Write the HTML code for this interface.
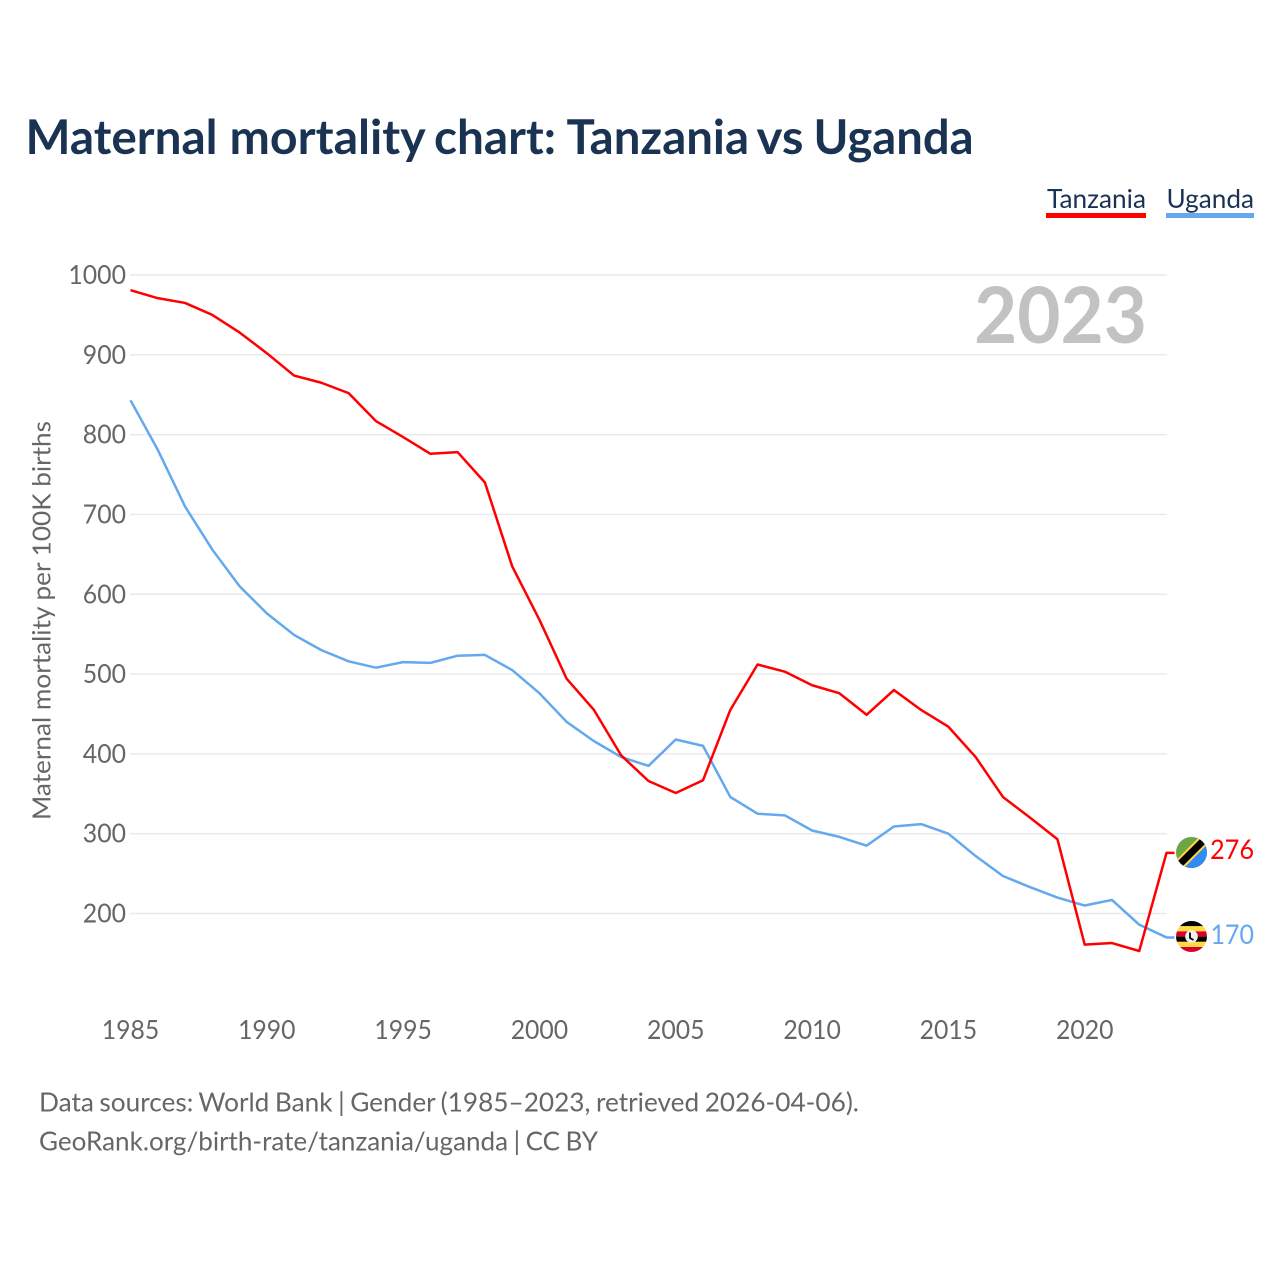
<!DOCTYPE html>
<html lang="en">
<head>
<meta charset="utf-8">
<title>Maternal mortality chart: Tanzania vs Uganda</title>
<style>
html,body{margin:0;padding:0;background:#fff;}
svg{display:block;}
text{font-family:"Lato","Carlito","Liberation Sans",sans-serif;}
.source{word-spacing:-1.2px;}
</style>
</head>
<body>
<svg id="chart" xmlns="http://www.w3.org/2000/svg" width="1280" height="1280" viewBox="0 0 1280 1280">
  <rect x="0" y="0" width="1280" height="1280" fill="#ffffff"/>
  <text y="154" font-size="48" font-weight="700" fill="#1a3353"><tspan x="25.5" textLength="192" lengthAdjust="spacingAndGlyphs">Maternal</tspan> <tspan x="229.5" textLength="195" lengthAdjust="spacingAndGlyphs">mortality</tspan> <tspan x="434" textLength="122" lengthAdjust="spacingAndGlyphs">chart:</tspan> <tspan x="566.5" textLength="182.5" lengthAdjust="spacingAndGlyphs">Tanzania</tspan> <tspan x="756.5" textLength="47" lengthAdjust="spacingAndGlyphs">vs</tspan> <tspan x="813.5" textLength="160" lengthAdjust="spacingAndGlyphs">Uganda</tspan></text>

  <g>
    <text x="1047" y="208" font-size="26.5" fill="#1a3353" textLength="99" lengthAdjust="spacingAndGlyphs">Tanzania</text>
    <rect x="1046" y="213" width="100" height="5" fill="#ff0000"/>
  </g>
  <g>
    <text x="1166.5" y="208" font-size="26.5" fill="#1a3353" textLength="87.5" lengthAdjust="spacingAndGlyphs">Uganda</text>
    <rect x="1166" y="213" width="88" height="5" fill="#64a8ee"/>
  </g>

  <g id="grid"></g>
  <g id="yticks"></g>
  <g id="xticks"></g>

  <text x="1147" y="343" text-anchor="end" font-size="78" font-weight="700" fill="#c2c2c2" textLength="173" lengthAdjust="spacingAndGlyphs">2023</text>
  <text transform="translate(50.5 620.5) rotate(-90)" text-anchor="middle" font-size="25.5" fill="#666666" textLength="399" lengthAdjust="spacingAndGlyphs">Maternal mortality per 100K births</text>

  <g id="series"></g>

  <defs>
    <clipPath id="flag-clip-tz"><circle cx="1191.5" cy="852.5" r="15.5"/></clipPath>
    <clipPath id="flag-clip-ug"><circle cx="1191.5" cy="936.5" r="15.5"/></clipPath>
  </defs>

  <g clip-path="url(#flag-clip-tz)">
    <rect x="1175" y="836" width="33" height="33" fill="#6da544"/>
    <polygon points="1207.5,836.5 1207.5,868.5 1175.5,868.5" fill="#338af3"/>
    <line x1="1171.5" y1="872.5" x2="1211.5" y2="832.5" stroke="#ffda44" stroke-width="11"/>
    <line x1="1171.5" y1="872.5" x2="1211.5" y2="832.5" stroke="#000000" stroke-width="7"/>
  </g>

  <g clip-path="url(#flag-clip-ug)">
    <rect x="1175" y="921" width="33" height="5.2" fill="#000000"/>
    <rect x="1175" y="926.2" width="33" height="5.2" fill="#ffda44"/>
    <rect x="1175" y="931.4" width="33" height="5.2" fill="#d80027"/>
    <rect x="1175" y="936.6" width="33" height="5.2" fill="#000000"/>
    <rect x="1175" y="941.8" width="33" height="5.2" fill="#ffda44"/>
    <rect x="1175" y="947" width="33" height="5.2" fill="#d80027"/>
    <circle cx="1191.5" cy="936.5" r="6.3" fill="#f0f0f0"/>
    <path d="M1190 932.5 L1190 938 L1193.5 940" fill="none" stroke="#000000" stroke-width="1.8"/>
  </g>

  <text id="value-tz" x="1254" y="859" text-anchor="end" font-size="27" fill="#ff0000" textLength="44" lengthAdjust="spacingAndGlyphs"></text>
  <text id="value-ug" x="1254" y="944" text-anchor="end" font-size="27" fill="#64a8ee" textLength="43.5" lengthAdjust="spacingAndGlyphs"></text>

  <text class="source" x="39" y="1111.5" font-size="26.5" fill="#666666" textLength="820" lengthAdjust="spacingAndGlyphs">Data sources: World Bank | Gender (1985–2023, retrieved 2026-04-06).</text>
  <a>
    <text class="source" x="39" y="1150.5" font-size="26.5" fill="#666666" textLength="559" lengthAdjust="spacingAndGlyphs">GeoRank.org/birth-rate/tanzania/uganda | CC BY</text>
  </a>
</svg>

<script>
const years = [1985,1986,1987,1988,1989,1990,1991,1992,1993,1994,1995,1996,1997,1998,1999,2000,2001,2002,2003,2004,2005,2006,2007,2008,2009,2010,2011,2012,2013,2014,2015,2016,2017,2018,2019,2020,2021,2022,2023];
const tanzaniaValues = [981,971,965,950,928,902,874,865,852,817,797,776,778,740,635,568,494,455,398,366,351,367,455,512,503,486,476,449,480,455,434,396,346,320,293,161,163,153,276];
const ugandaValues = [843,781,710,656,610,576,549,530,516,508,515,514,523,524,505,476,440,416,396,385,418,410,346,325,323,304,296,285,309,312,300,272,247,233,220,210,217,186,170];
const yTickValues = [200,300,400,500,600,700,800,900,1000];
const xTickValues = [1985,1990,1995,2000,2005,2010,2015,2020];

const NS = 'http://www.w3.org/2000/svg';
function xScale(year) { return 130.5 + (year - 1985) * (1166.5 - 130.5) / (2023 - 1985); }
function yScale(value) { return 275 + (1000 - value) * (913.5 - 275) / (1000 - 200); }

const gridGroup = document.getElementById('grid');
const yGroup = document.getElementById('yticks');
const xGroup = document.getElementById('xticks');
const seriesGroup = document.getElementById('series');

yTickValues.forEach(function (v) {
  const line = document.createElementNS(NS, 'line');
  
  
  line.setAttribute('x1', 130);
  line.setAttribute('x2', 1167);
  line.setAttribute('y1', yScale(v));
  line.setAttribute('y2', yScale(v));
  line.setAttribute('stroke', '#e9e9e9');
  line.setAttribute('stroke-width', 1.4);
  gridGroup.appendChild(line);

  const label = document.createElementNS(NS, 'text');
  
  
  label.setAttribute('x', 126);
  label.setAttribute('y', yScale(v) + 9);
  label.setAttribute('text-anchor', 'end');
  label.setAttribute('font-size', 26);
  label.setAttribute('fill', '#666666');
  label.setAttribute('textLength', String(v).length * 14.4);
  label.setAttribute('lengthAdjust', 'spacingAndGlyphs');
  label.textContent = v;
  yGroup.appendChild(label);
});

xTickValues.forEach(function (y) {
  const label = document.createElementNS(NS, 'text');
  
  
  label.setAttribute('x', xScale(y));
  label.setAttribute('y', 1039);
  label.setAttribute('text-anchor', 'middle');
  label.setAttribute('font-size', 26);
  label.setAttribute('fill', '#666666');
  label.setAttribute('textLength', 57.5);
  label.setAttribute('lengthAdjust', 'spacingAndGlyphs');
  label.textContent = y;
  xGroup.appendChild(label);
});

function buildPath(values) {
  let d = '';
  values.forEach(function (v, i) {
    d += (i === 0 ? 'M' : 'L') + xScale(years[i]).toFixed(2) + ' ' + yScale(v).toFixed(2) + ' ';
  });
  const last = values[values.length - 1];
  d += 'L' + (xScale(years[years.length - 1]) + 8) + ' ' + yScale(last).toFixed(2);
  return d;
}

const ugandaPath = document.createElementNS(NS, 'path');


ugandaPath.setAttribute('d', buildPath(ugandaValues));
ugandaPath.setAttribute('fill', 'none');
ugandaPath.setAttribute('stroke', '#64a8ee');
ugandaPath.setAttribute('stroke-width', 2.5);
ugandaPath.setAttribute('stroke-linejoin', 'round');
seriesGroup.appendChild(ugandaPath);

const tanzaniaPath = document.createElementNS(NS, 'path');


tanzaniaPath.setAttribute('d', buildPath(tanzaniaValues));
tanzaniaPath.setAttribute('fill', 'none');
tanzaniaPath.setAttribute('stroke', '#ff0000');
tanzaniaPath.setAttribute('stroke-width', 2.5);
tanzaniaPath.setAttribute('stroke-linejoin', 'round');
seriesGroup.appendChild(tanzaniaPath);

document.getElementById('value-tz').textContent = tanzaniaValues[tanzaniaValues.length - 1];
document.getElementById('value-ug').textContent = ugandaValues[ugandaValues.length - 1];
</script>
</body>
</html>
